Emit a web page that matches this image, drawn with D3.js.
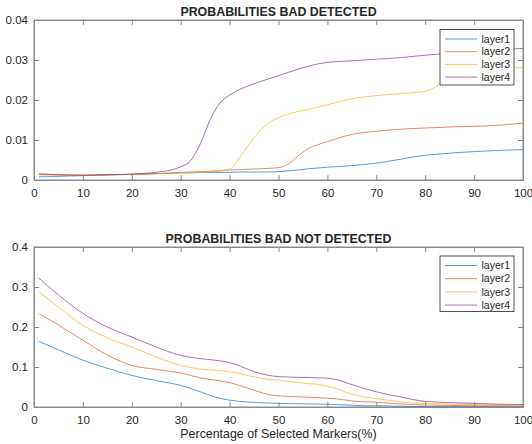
<!DOCTYPE html>
<html>
<head>
<meta charset="utf-8">
<script src="https://cdn.jsdelivr.net/npm/d3@7"></script>
<style>
  html, body { margin: 0; padding: 0; background: #fff; }
  svg { display: block; }
  text { font-family: "Liberation Sans", Arial, Helvetica, sans-serif; fill: #262626; }
</style>
</head>
<body>
<svg id="chart" width="532" height="444"></svg>
<script>
// ---------- DATA ----------
const seriesNames = ["layer1", "layer2", "layer3", "layer4"];
const seriesColors = ["#0072BD", "#D95319", "#EDB120", "#7E2F8E"];

const topTitle = "PROBABILITIES BAD DETECTED";
const bottomTitle = "PROBABILITIES BAD NOT DETECTED";
const xLabel = "Percentage of Selected Markers(%)";

const xTicks = [0, 10, 20, 30, 40, 50, 60, 70, 80, 90, 100];
const topYTicks = [0, 0.01, 0.02, 0.03, 0.04];
const bottomYTicks = [0, 0.1, 0.2, 0.3, 0.4];

// top panel x positions
const topX = [1,5,10,15,20,25,28,30,32,34,36,38,40,42,44,46,48,50,52,54,56,58,60,65,70,75,80,82,84,86,90,95,100];
const topLayer1 = [0.0008,0.0009,0.0011,0.0013,0.0014,0.0016,0.0017,0.0018,0.0018,0.0019,0.0019,0.0019,0.0019,0.0020,0.0020,0.0020,0.0020,0.0021,0.0023,0.0025,0.0028,0.0030,0.0032,0.0036,0.0042,0.0052,0.0062,0.0064,0.0066,0.0068,0.0071,0.0074,0.0076];
const topLayer2 = [0.0015,0.0013,0.0012,0.0013,0.0014,0.0016,0.0017,0.0019,0.0020,0.0021,0.0022,0.0023,0.0025,0.0026,0.0027,0.0028,0.0029,0.0031,0.0040,0.0060,0.0078,0.0088,0.0096,0.0114,0.0122,0.0127,0.0130,0.0131,0.0132,0.0133,0.0134,0.0137,0.0142];
const topLayer3 = [0.0013,0.0012,0.0012,0.0013,0.0014,0.0016,0.0017,0.0018,0.0019,0.0020,0.0021,0.0023,0.0027,0.0055,0.0090,0.0120,0.0143,0.0156,0.0165,0.0171,0.0176,0.0182,0.0188,0.0203,0.0211,0.0216,0.0222,0.0232,0.0250,0.0265,0.0276,0.0279,0.0281];
const topLayer4 = [0.0015,0.0013,0.0012,0.0013,0.0015,0.0019,0.0025,0.0033,0.0048,0.0090,0.0150,0.0192,0.0212,0.0226,0.0236,0.0245,0.0253,0.0261,0.0269,0.0277,0.0284,0.0290,0.0294,0.0298,0.0302,0.0306,0.0312,0.0314,0.0316,0.0318,0.0322,0.0326,0.0329];

// bottom panel x positions
const botX = [1,5,10,15,20,25,30,34,37,40,42,44,46,48,50,55,60,62,64,66,68,70,75,80,85,90,95,100];
const botLayer1 = [0.164,0.143,0.117,0.097,0.079,0.066,0.054,0.038,0.025,0.017,0.014,0.012,0.011,0.010,0.009,0.008,0.0068,0.006,0.005,0.004,0.003,0.003,0.002,0.001,0.001,0.0008,0.0005,0.0003];
const botLayer2 = [0.234,0.205,0.167,0.130,0.104,0.094,0.085,0.073,0.067,0.061,0.054,0.046,0.038,0.031,0.028,0.025,0.022,0.020,0.017,0.014,0.013,0.012,0.0075,0.005,0.004,0.003,0.003,0.002];
const botLayer3 = [0.288,0.250,0.204,0.173,0.150,0.125,0.104,0.095,0.092,0.088,0.084,0.078,0.073,0.069,0.067,0.060,0.052,0.045,0.036,0.029,0.024,0.021,0.0125,0.009,0.007,0.006,0.005,0.004];
const botLayer4 = [0.322,0.280,0.234,0.200,0.175,0.150,0.129,0.121,0.117,0.111,0.103,0.093,0.085,0.079,0.076,0.074,0.072,0.068,0.060,0.052,0.045,0.038,0.025,0.014,0.011,0.009,0.007,0.006];

// ---------- DRAW ----------
const svg = d3.select("#chart");
const left = 34, right = 523;

const panels = [
  { title: topTitle, top: 20, bottom: 180, yMax: 0.04, yTicks: topYTicks, x: topX,
    series: [topLayer1, topLayer2, topLayer3, topLayer4], legendTop: 29.5, legendRow: 12.7 },
  { title: bottomTitle, top: 247, bottom: 407, yMax: 0.4, yTicks: bottomYTicks, x: botX,
    series: [botLayer1, botLayer2, botLayer3, botLayer4], legendTop: 256, legendRow: 13.2 }
];

const fmt = d => d === 0 ? "0" : String(+d.toFixed(3));

panels.forEach(p => {
  const x = d3.scaleLinear().domain([0, 100]).range([left, right]);
  const y = d3.scaleLinear().domain([0, p.yMax]).range([p.bottom, p.top]);
  const g = svg.append("g");

  // frame
  g.append("rect").attr("x", left).attr("y", p.top)
    .attr("width", right - left).attr("height", p.bottom - p.top)
    .attr("fill", "#fff").attr("stroke", "#8a8a8a").attr("stroke-width", 1);

  // lines
  const line = d3.line().x((d, i) => x(p.x[i])).y(d => y(d)).curve(d3.curveMonotoneX);
  p.series.forEach((s, i) => {
    g.append("path").datum(s).attr("d", line)
      .attr("fill", "none").attr("stroke", seriesColors[i]).attr("stroke-width", 0.8)
      .attr("stroke-opacity", 0.85);
  });

  // axes (ticks inside)
  const ax = g.append("g").attr("transform", `translate(0,${p.bottom})`)
    .call(d3.axisBottom(x).tickValues(xTicks).tickSize(-5).tickPadding(9).tickFormat(d3.format("d")));
  const ay = g.append("g").attr("transform", `translate(${left},0)`)
    .call(d3.axisLeft(y).tickValues(p.yTicks).tickSize(-5).tickPadding(6).tickFormat(fmt));
  const at = g.append("g").attr("transform", `translate(0,${p.top})`)
    .call(d3.axisTop(x).tickValues(xTicks).tickSize(-5).tickFormat(""));
  const ar = g.append("g").attr("transform", `translate(${right},0)`)
    .call(d3.axisRight(y).tickValues(p.yTicks).tickSize(-5).tickFormat(""));
  [ax, ay, at, ar].forEach(a => {
    a.select(".domain").attr("stroke", "#8a8a8a");
    a.selectAll(".tick line").attr("stroke", "#8a8a8a");
    a.selectAll(".tick text").attr("fill", "#262626").style("font-size", "11.5px")
      .style("font-family", "'Liberation Sans', Arial, sans-serif");
  });

  // title
  g.append("text").attr("x", (left + right) / 2).attr("y", p.top - 4.5)
    .attr("text-anchor", "middle").style("font-size", "12.4px").style("font-weight", "bold")
    .attr("fill", "#000").text(p.title);

  // legend
  const lx = 440, lw = 74, lh = 55.5;
  const lg = g.append("g");
  lg.append("rect").attr("x", lx).attr("y", p.legendTop).attr("width", lw).attr("height", lh)
    .attr("fill", "#fff").attr("stroke", "#262626").attr("stroke-width", 0.8);
  seriesNames.forEach((n, i) => {
    const cy = p.legendTop + 9.5 + i * p.legendRow;
    lg.append("line").attr("x1", lx + 5).attr("x2", lx + 37).attr("y1", cy).attr("y2", cy)
      .attr("stroke", seriesColors[i]).attr("stroke-width", 0.8).attr("stroke-opacity", 0.85);
    lg.append("text").attr("x", lx + 41.5).attr("y", cy).attr("dy", "0.35em")
      .style("font-size", "10.5px").text(n);
  });
});

// x axis label
svg.append("text").attr("x", (left + right) / 2).attr("y", 437.5)
  .attr("text-anchor", "middle").style("font-size", "12.4px").text(xLabel);
</script>
</body>
</html>
